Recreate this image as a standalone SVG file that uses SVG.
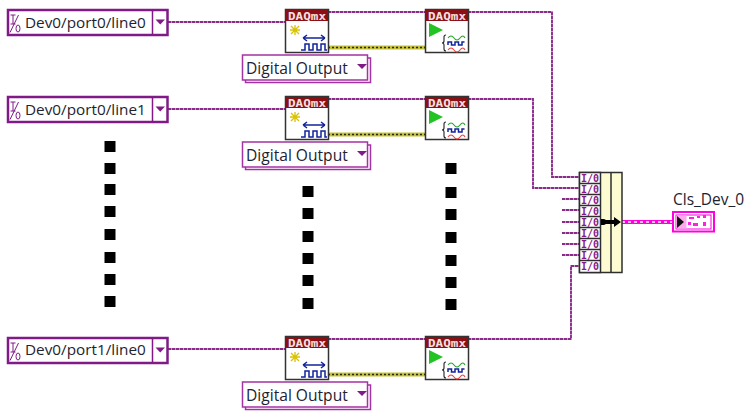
<svg xmlns="http://www.w3.org/2000/svg" width="746" height="412" viewBox="0 0 746 412">
<style>
.w{fill:none;stroke:#8c2a8c;stroke-width:1.800;stroke-dasharray:3 1}
.wb{fill:none;stroke:#c596c5;stroke-width:2}
.y{fill:none;stroke:#c4c23c;stroke-width:4}
.yd{fill:none;stroke:#2b2b00;stroke-width:1.500;stroke-dasharray:2 2}
.t{font-family:"Open Sans","Noto Sans",sans-serif;fill:#1d2330}
.c{fill:#fff;stroke:#7f1a87;stroke-width:2.500}
.r{fill:#fff;stroke:#a332a3;stroke-width:1.500}
.d{fill:#000}
.io{font-family:"DejaVu Sans Mono","Liberation Mono",monospace;font-size:10px;font-weight:bold;fill:#861a86}
.dq{font-family:"DejaVu Sans Mono","Liberation Mono",monospace;font-size:10px;font-weight:bold;fill:#f4e0e0}
</style>
<defs>
<g id="combo">
<rect class="c" x="8" y="10" width="159.500" height="25"/>
<line x1="152.500" y1="10" x2="152.500" y2="35" stroke="#7f1a87" stroke-width="1.500"/>
<path d="M155.500 19.500h9.500l-4.750 5z" fill="#7f1a87"/>
<path d="M10.500 15h5M13 15v9M10.500 24h5M18.500 15l-8.500 17.500" fill="none" stroke="#7f1a87" stroke-width="1"/>
<ellipse cx="18" cy="28.500" rx="2" ry="3.500" fill="none" stroke="#7f1a87" stroke-width="1"/>
</g>
<g id="n1">
<rect x="0.500" y="0.500" width="43" height="43" fill="#fff" stroke="#333" stroke-width="1.500"/>
<rect x="1" y="1" width="42" height="11" fill="#8b0f14"/>
<path d="M6 17l8 8M14 17l-8 8M10 16v10M5 21h10" stroke="#d9c200" stroke-width="1.300" fill="none"/>
<path d="M18 29h22M18 29l4-3M18 29l4 3M40 29l-4-3M40 29l-4 3M16 41h4v-6h4v6h4v-6h4v6h4v-6h4v6h2" stroke="#12249c" stroke-width="1.500" fill="none"/>
</g>
<g id="n2">
<rect x="0.500" y="0.500" width="43" height="43" fill="#fff" stroke="#333" stroke-width="1.500"/>
<rect x="1" y="1" width="42" height="11" fill="#8b0f14"/>
<path d="M4 14l14 7-14 7z" fill="#22c322"/>
<path d="M21 26q-2 0-2 2v4q0 2-2 2q2 0 2 2v4q0 2 2 2" fill="none" stroke="#222" stroke-width="1.100"/>
<path d="M23 29q3-4 6 0t6 0t5 0" fill="none" stroke="#28a428" stroke-width="1.100"/>
<path d="M23 36v-3h3.500v3h3.500v-3h3.500v3h3.500v-3h2.500" fill="none" stroke="#12249c" stroke-width="1.500"/>
<path d="M23 41q3-4 6 0t6 0t5 0" fill="none" stroke="#f04040" stroke-width="1.100"/>
</g>
<g id="ring">
<rect class="r" x="245.500" y="58" width="125" height="24.500"/>
<rect class="r" x="242.500" y="55" width="125" height="25"/>
<path d="M357 64h10l-5 5z" fill="#7f1a87"/>
</g>
<rect id="b" width="11" height="11" class="d"/>
</defs>

<g id="connectors">
<g>
<path class="wb" d="M168 22H285M328 12H425M468 12H552V177H579M168 109H285M328 99H425M468 99H533V188H579M168 349H285M328 339H425M468 339H571V266H579M562 199H579M562 210H579M562 222H579M562 233H579M562 244H579M562 255H579"/>
<path class="w" d="M168 22H285M328 12H425M468 12H552V177H579M168 109H285M328 99H425M468 99H533V188H579M168 349H285M328 339H425M468 339H571V266H579M562 199H579M562 210H579M562 222H579M562 233H579M562 244H579M562 255H579"/>
</g>
<path class="y" d="M328 47.500H425M328 134.500H425M328 374.500H425"/>
<path class="yd" d="M328 47.500H425M328 134.500H425M328 374.500H425"/>
<path d="M622 222H672" fill="none" stroke="#ff00e0" stroke-width="4"/>
<path d="M622 222H672" fill="none" stroke="#fff" stroke-width="1.500" stroke-dasharray="3 3"/>
</g>

<g id="combo0"><use href="#combo"/><text class="t" x="25" y="28" font-size="15.300">Dev0/port0/line0</text></g>
<g id="combo1"><use href="#combo" y="87"/><text class="t" x="25" y="115" font-size="15.300">Dev0/port0/line1</text></g>
<g id="combo2"><use href="#combo" y="328"/><text class="t" x="25" y="355" font-size="15.300">Dev0/port1/line0</text></g>

<g id="create0"><use href="#n1" x="285" y="9"/><text class="dq" x="288" y="20" textLength="38" lengthAdjust="spacingAndGlyphs">DAQmx</text></g>
<g id="start0"><use href="#n2" x="425" y="9"/><text class="dq" x="428" y="20" textLength="38" lengthAdjust="spacingAndGlyphs">DAQmx</text></g>
<g id="create1"><use href="#n1" x="285" y="96"/><text class="dq" x="288" y="107" textLength="38" lengthAdjust="spacingAndGlyphs">DAQmx</text></g>
<g id="start1"><use href="#n2" x="425" y="96"/><text class="dq" x="428" y="107" textLength="38" lengthAdjust="spacingAndGlyphs">DAQmx</text></g>
<g id="create2"><use href="#n1" x="285" y="336"/><text class="dq" x="288" y="347" textLength="38" lengthAdjust="spacingAndGlyphs">DAQmx</text></g>
<g id="start2"><use href="#n2" x="425" y="336"/><text class="dq" x="428" y="347" textLength="38" lengthAdjust="spacingAndGlyphs">DAQmx</text></g>

<g id="ring0"><use href="#ring"/><text class="t" x="246" y="74" font-size="15.600">Digital Output</text></g>
<g id="ring1"><use href="#ring" y="87"/><text class="t" x="246" y="161" font-size="15.600">Digital Output</text></g>
<g id="ring2"><use href="#ring" y="327"/><text class="t" x="246" y="401" font-size="15.600">Digital Output</text></g>

<g id="build">
<rect x="579.500" y="172.500" width="42.500" height="100" fill="#fdfbd2" stroke="#2e2e2e" stroke-width="1.500"/>
<line x1="611" y1="172" x2="611" y2="272" stroke="#2e2e2e" stroke-width="1.500"/>
<rect x="579.500" y="172.500" width="21" height="100" fill="#fff" stroke="#2e2e2e" stroke-width="1.500"/>
<path d="M580 183.500h20M580 194.500h20M580 205.500h20M580 216.500h20M580 227.500h20M580 238.500h20M580 249.500h20M580 260.500h20" stroke="#2e2e2e" stroke-width="1.500"/>
<text class="io" x="581" y="181.500">I/0</text>
<text class="io" x="581" y="192.500">I/0</text>
<text class="io" x="581" y="203.500">I/0</text>
<text class="io" x="581" y="214.500">I/0</text>
<text class="io" x="581" y="225.500">I/0</text>
<text class="io" x="581" y="236.500">I/0</text>
<text class="io" x="581" y="247.500">I/0</text>
<text class="io" x="581" y="258.500">I/0</text>
<text class="io" x="581" y="269.500">I/0</text>
<path d="M601 219h3l2 1h8v-3l7 5-7 5v-3h-8l-2 1h-3z" fill="#000"/>
</g>

<g id="indicator">
<rect x="673" y="212" width="41" height="19.500" fill="#fff" stroke="#ff00e0" stroke-width="2"/>
<rect x="676" y="215" width="35" height="14" fill="#fff" stroke="#ff00e0" stroke-width="1"/>
<rect x="676.500" y="215.500" width="10" height="13" fill="#ffa8ee"/>
<path d="M677 216l7 6-7 6z" fill="#111"/>
<path d="M689 217h5v2h-5zM697 216h3v2h-3zM703 215h3v3h-3zM688 222h3v3h-3zM693 223h5v3h-5zM703 222h3v4h-3z" fill="#ff20e0"/>
<text class="t" x="673" y="205" font-size="15.500">Cls_Dev_0</text>
</g>

<g id="dots">
<use href="#b" x="104.500" y="141"/><use href="#b" x="104.500" y="163"/><use href="#b" x="104.500" y="184"/><use href="#b" x="104.500" y="206"/><use href="#b" x="104.500" y="229"/><use href="#b" x="104.500" y="252"/><use href="#b" x="104.500" y="274"/><use href="#b" x="104.500" y="296"/>
<use href="#b" x="302.500" y="186"/><use href="#b" x="302.500" y="208"/><use href="#b" x="302.500" y="231"/><use href="#b" x="302.500" y="253"/><use href="#b" x="302.500" y="275"/><use href="#b" x="302.500" y="298"/>
<use href="#b" x="445.500" y="163"/><use href="#b" x="445.500" y="187"/><use href="#b" x="445.500" y="209"/><use href="#b" x="445.500" y="232"/><use href="#b" x="445.500" y="255"/><use href="#b" x="445.500" y="277"/><use href="#b" x="445.500" y="299"/>
</g>
</svg>
